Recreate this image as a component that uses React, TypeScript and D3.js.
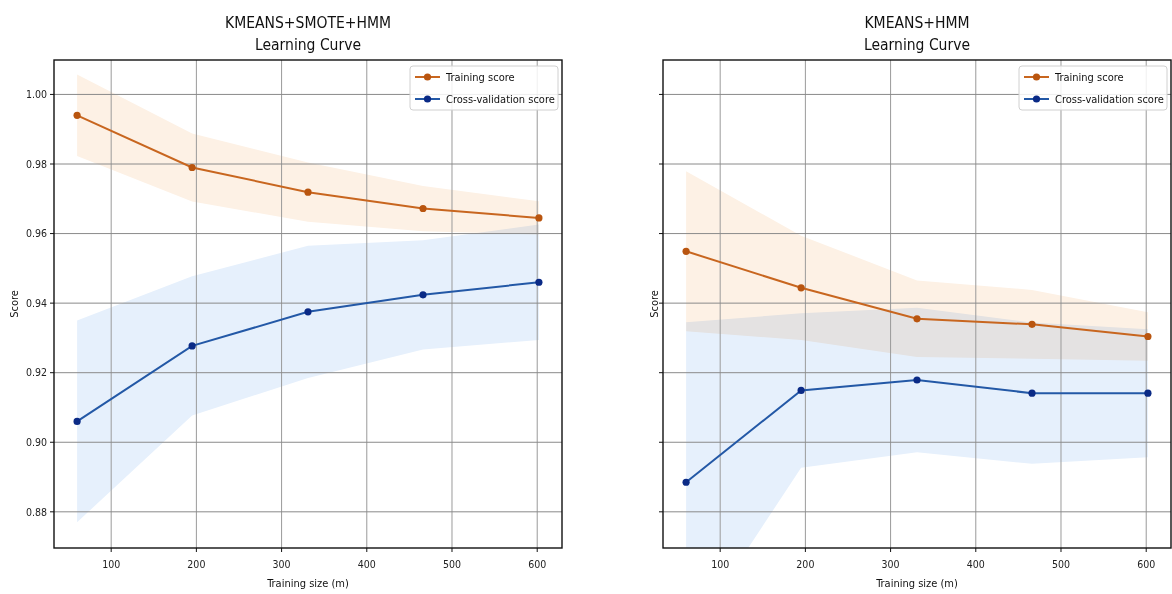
import React from "react";
import * as d3 from "d3";

// Training set sizes used for the learning curves
const trainSizes = [60, 195, 331, 466, 602];

// KMEANS+SMOTE+HMM
const smoteTrainMean = [0.994, 0.979, 0.9719, 0.9672, 0.9645];
const smoteTrainStd = [0.0117, 0.0098, 0.0085, 0.0065, 0.0048];
const smoteCvMean = [0.906, 0.9277, 0.9375, 0.9424, 0.946];
const smoteCvStd = [0.029, 0.02, 0.019, 0.0157, 0.0166];

// KMEANS+HMM
const plainTrainMean = [0.9549, 0.9444, 0.9355, 0.9339, 0.9304];
const plainTrainStd = [0.023, 0.015, 0.011, 0.0099, 0.007];
const plainCvMean = [0.8885, 0.9149, 0.9179, 0.9141, 0.9141];
const plainCvStd = [0.046, 0.0222, 0.0208, 0.0203, 0.0184];

const xTicks = [100, 200, 300, 400, 500, 600];
const yTicks = [0.88, 0.9, 0.92, 0.94, 0.96, 0.98, 1.0];
const xDomain: [number, number] = [32.9, 629.1];
const yDomain: [number, number] = [0.8696, 1.0099];

const legendLabels = ["Training score", "Cross-validation score"];

const FONT = "'DejaVu Sans Condensed', 'DejaVu Sans', sans-serif";

const TRAIN_LINE = "#c8661f";
const TRAIN_MARK = "#b9550f";
const TRAIN_FILL = "#fdf1e5";
const CV_LINE = "#2358a6";
const CV_MARK = "#0a2a86";
const CV_FILL = "#e6f0fc";

type PanelProps = {
  id: string;
  left: number;
  right: number;
  titleLines: string[];
  trainMean: number[];
  trainStd: number[];
  cvMean: number[];
  cvStd: number[];
  showYLabels: boolean;
};

const TOP = 60;
const BOTTOM = 548;

function Panel(p: PanelProps) {
  const x = d3.scaleLinear().domain(xDomain).range([p.left, p.right]);
  const y = d3.scaleLinear().domain(yDomain).range([BOTTOM, TOP]);
  const idx = trainSizes.map((_, i) => i);

  const band = (mean: number[], std: number[]) =>
    d3
      .area<number>()
      .x((i) => x(trainSizes[i]))
      .y0((i) => y(mean[i] - std[i]))
      .y1((i) => y(mean[i] + std[i]))(idx) || "";
  const line = (mean: number[]) =>
    d3
      .line<number>()
      .x((i) => x(trainSizes[i]))
      .y((i) => y(mean[i]))(idx) || "";

  const cx = (p.left + p.right) / 2;
  const cy = (TOP + BOTTOM) / 2;
  const legW = 148;
  const legX = p.right - 4 - legW;
  const legY = 66;

  return (
    <g>
      <defs>
        <clipPath id={`clip-${p.id}`}>
          <rect x={p.left} y={TOP} width={p.right - p.left} height={BOTTOM - TOP} />
        </clipPath>
      </defs>
      <g clipPath={`url(#clip-${p.id})`}>
        <path d={band(p.trainMean, p.trainStd)} fill={TRAIN_FILL} style={{ mixBlendMode: "multiply" }} />
        <path d={band(p.cvMean, p.cvStd)} fill={CV_FILL} style={{ mixBlendMode: "multiply" }} />
        {xTicks.map((t) => (
          <line key={`gx${t}`} x1={x(t)} x2={x(t)} y1={TOP} y2={BOTTOM} stroke="#9a9a9a" strokeWidth={1} />
        ))}
        {yTicks.map((t) => (
          <line key={`gy${t}`} x1={p.left} x2={p.right} y1={y(t)} y2={y(t)} stroke="#8a8a8a" strokeWidth={1} />
        ))}
        <path d={line(p.trainMean)} fill="none" stroke={TRAIN_LINE} strokeWidth={2} />
        <path d={line(p.cvMean)} fill="none" stroke={CV_LINE} strokeWidth={2} />
        {idx.map((i) => (
          <circle key={`tm${i}`} cx={x(trainSizes[i])} cy={y(p.trainMean[i])} r={3.6} fill={TRAIN_MARK} />
        ))}
        {idx.map((i) => (
          <circle key={`cm${i}`} cx={x(trainSizes[i])} cy={y(p.cvMean[i])} r={3.6} fill={CV_MARK} />
        ))}
      </g>
      <rect x={p.left} y={TOP} width={p.right - p.left} height={BOTTOM - TOP} fill="none" stroke="#111" strokeWidth={1.4} />

      {xTicks.map((t) => (
        <g key={`xt${t}`}>
          <line x1={x(t)} x2={x(t)} y1={BOTTOM} y2={BOTTOM + 4} stroke="#111" strokeWidth={1} />
          <text x={x(t)} y={568} textAnchor="middle" fontSize={10.5} fontFamily={FONT} fill="#222">
            {t}
          </text>
        </g>
      ))}
      {yTicks.map((t) => (
        <g key={`yt${t}`}>
          <line x1={p.left - 4} x2={p.left} y1={y(t)} y2={y(t)} stroke="#111" strokeWidth={1} />
          {p.showYLabels && (
            <text x={p.left - 7} y={y(t)} dy="0.35em" textAnchor="end" fontSize={10.5} fontFamily={FONT} fill="#222">
              {t.toFixed(2)}
            </text>
          )}
        </g>
      ))}

      <text x={cx} y={587} textAnchor="middle" fontSize={11} fontFamily={FONT} fill="#111">
        Training size (m)
      </text>
      <text
        transform={`translate(${p.left - (p.showYLabels ? 36 : 5)},${cy}) rotate(-90)`}
        textAnchor="middle"
        fontSize={11}
        fontFamily={FONT}
        fill="#111"
      >
        Score
      </text>

      {p.titleLines.map((s, k) => (
        <text key={s} x={cx} y={28 + k * 22} textAnchor="middle" fontSize={15.5} fontFamily={FONT} fill="#111">
          {s}
        </text>
      ))}

      <g>
        <rect x={legX} y={legY} width={legW} height={44} rx={3} fill="#fff" fillOpacity={0.85} stroke="#d0d0d0" strokeWidth={1} />
        {legendLabels.map((lab, k) => {
          const ly = legY + 11 + k * 22;
          const lineCol = k === 0 ? TRAIN_LINE : CV_LINE;
          const markCol = k === 0 ? TRAIN_MARK : CV_MARK;
          return (
            <g key={lab}>
              <line x1={legX + 5} x2={legX + 30} y1={ly} y2={ly} stroke={lineCol} strokeWidth={2} />
              <circle cx={legX + 17.5} cy={ly} r={3.6} fill={markCol} />
              <text x={legX + 36} y={ly} dy="0.35em" fontSize={11} fontFamily={FONT} fill="#111">
                {lab}
              </text>
            </g>
          );
        })}
      </g>
    </g>
  );
}

export default function App() {
  return (
    <svg
      width={1172}
      height={594}
      viewBox="0 0 1172 594"
      style={{ position: "absolute", left: 0, top: 0, background: "#fff" }}
    >
      <rect width={1172} height={594} fill="#fff" />
      <Panel
        id="smote"
        left={54}
        right={562}
        titleLines={["KMEANS+SMOTE+HMM", "Learning Curve"]}
        trainMean={smoteTrainMean}
        trainStd={smoteTrainStd}
        cvMean={smoteCvMean}
        cvStd={smoteCvStd}
        showYLabels={true}
      />
      <Panel
        id="plain"
        left={663}
        right={1171}
        titleLines={["KMEANS+HMM", "Learning Curve"]}
        trainMean={plainTrainMean}
        trainStd={plainTrainStd}
        cvMean={plainCvMean}
        cvStd={plainCvStd}
        showYLabels={false}
      />
    </svg>
  );
}
